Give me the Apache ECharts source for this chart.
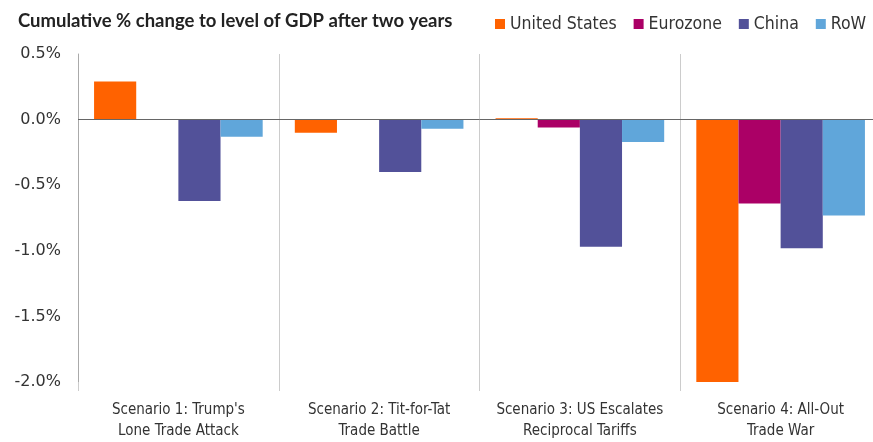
<!DOCTYPE html>
<html><head><meta charset="utf-8">
<script src="https://cdn.jsdelivr.net/npm/echarts@6/dist/echarts.min.js"></script>
<style>html,body{margin:0;padding:0;background:#fff;overflow:hidden}#c{width:882px;height:442px}</style>
</head><body><div id="c"></div>
<script>
const categories = ["Scenario 1: Trump's\nLone Trade Attack", "Scenario 2: Tit-for-Tat\nTrade Battle", "Scenario 3: US Escalates\nReciprocal Tariffs", "Scenario 4: All-Out\nTrade War"];
const seriesNames = ["United States", "Eurozone", "China", "RoW"];
const unitedStates = [0.29, -0.10, 0.01, -2.00];
const eurozone = [0.0, 0.0, -0.06, -0.64];
const china = [-0.62, -0.40, -0.97, -0.98];
const row = [-0.13, -0.07, -0.17, -0.73];
const colors = ["#FF6200", "#AB0066", "#525199", "#60A6DA"];
const yTicks = { min: -2.0, max: 0.5, interval: 0.5 };

const values = [unitedStates, eurozone, china, row];
const chart = echarts.init(document.getElementById('c'), null, {renderer: 'canvas'});
const series = seriesNames.map((n, i) => ({
  name: n, type: 'bar', data: values[i], barGap: '0%', barCategoryGap: '16%',
  itemStyle: { color: colors[i] }
}));
series[0].markLine = {
  silent: true, symbol: 'none', label: { show: false },
  lineStyle: { color: '#666', width: 1, type: 'solid' },
  data: [{ yAxis: 0 }], animation: false
};
chart.setOption({
  animation: false,
  title: { text: 'Cumulative % change to level of GDP after two years', left: 13, top: 7,
    textStyle: { fontFamily: 'Lato', fontWeight: 'bold', fontSize: 18.5, color: '#222' } },
  legend: { data: seriesNames, left: 490, top: 10, itemWidth: 10, itemHeight: 10, itemGap: 17,
    icon: 'rect', textStyle: { fontFamily: 'DejaVu Sans Condensed', fontSize: 17.5, color: '#333' } },
  grid: { left: 78, right: 1, top: 54, bottom: 58 },
  xAxis: { type: 'category', data: categories,
    axisLine: { show: false, onZero: false },
    axisTick: { show: true, length: 9, lineStyle: { color: '#ccc' } },
    splitLine: { show: true, lineStyle: { color: '#ccc', width: 1 } },
    axisLabel: { fontFamily: 'DejaVu Sans Condensed', fontSize: 15, color: '#333', lineHeight: 21, margin: 18, interval: 0 } },
  yAxis: { type: 'value', min: yTicks.min, max: yTicks.max, interval: yTicks.interval,
    axisLine: { show: true, lineStyle: { color: '#aaa' } },
    axisTick: { show: false }, splitLine: { show: false },
    axisLabel: { fontFamily: 'DejaVu Sans', fontSize: 16, color: '#333', margin: 17,
      formatter: v => v.toFixed(1) + '%' } },
  series: series
});
</script></body></html>
